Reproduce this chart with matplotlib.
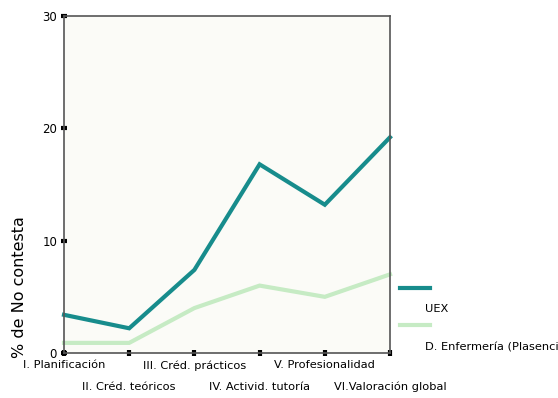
import matplotlib.pyplot as plt
import numpy as np

categories = ['I. Planificación', 'II. Créd. teóricos', 'III. Créd. prácticos',
              'IV. Activid. tutoría', 'V. Profesionalidad', 'VI.Valoración global']
uex = [3.4, 2.2, 7.4, 16.8, 13.2, 19.2]
enfermeria = [0.9, 0.9, 4.0, 6.0, 5.0, 7.0]
series_names = ['UEX', 'D. Enfermería (Plasencia)']

teal = '#178c8c'
light = '#c6ebc4'

plt.rcParams['font.family'] = ['DejaVu Sans']

fig = plt.figure(figsize=(5.58, 3.98), dpi=100)
ax = fig.add_axes([64 / 558, 1 - 353 / 398, 326 / 558, 337 / 398])
ax.set_facecolor('#fbfbf7')

x = np.arange(len(categories))
ax.plot(x, uex, color=teal, lw=3, solid_joinstyle='miter', clip_on=False)
ax.plot(x, enfermeria, color=light, lw=3, solid_joinstyle='miter', clip_on=False)

ax.set_xlim(0, len(categories) - 1)
ax.set_ylim(0, 30)
ax.set_yticks([0, 10, 20, 30])
ax.set_xticks(x)
ax.set_xticklabels([])
for i, lab in enumerate(categories):
    yoff = -0.022 if i % 2 == 0 else -0.085
    ax.text(i, yoff, lab, transform=ax.get_xaxis_transform(), ha='center', va='top',
            fontsize=8.2)

for s in ax.spines.values():
    s.set_color('#555555')
    s.set_linewidth(1.2)
ax.tick_params(direction='inout', length=4, width=3, color='black', labelsize=8.5)
ax.tick_params(axis='y', pad=3)

fig.text(20 / 558, 1 - 287 / 398, '% de No contesta', rotation=90, ha='center', va='center',
         fontsize=11.5)

# legend drawn by hand to keep SPSS-like layout
lx0, lx1 = 400 / 558, 430 / 558
fig.add_artist(plt.Line2D([lx0, lx1], [1 - 288 / 398] * 2, color=teal, lw=3))
fig.text(425 / 558, 1 - 309 / 398, series_names[0], fontsize=8.2, va='center')
fig.add_artist(plt.Line2D([lx0, lx1], [1 - 325 / 398] * 2, color=light, lw=3))
fig.text(425 / 558, 1 - 348 / 398, series_names[1], fontsize=8.2, va='center')

fig.savefig('out.png', dpi=100)
